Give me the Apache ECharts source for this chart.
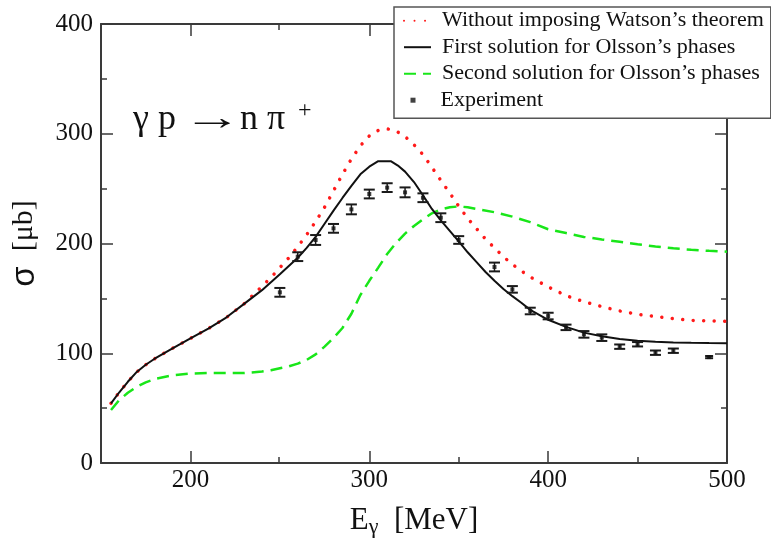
<!DOCTYPE html>
<html>
<head>
<meta charset="utf-8">
<script src="https://cdn.jsdelivr.net/npm/echarts@6/dist/echarts.min.js"></script>
<style>html,body{margin:0;padding:0;background:#fff;}#c{width:771px;height:545px;}</style>
</head>
<body>
<div id="c"></div>
<script>
// ---- data ----
var xMajorTicks = [200, 300, 400, 500];
var xMinorTicks = [250, 350, 450];
var seriesNames = ["Without imposing Watson\u2019s theorem", "First solution for Olsson\u2019s phases", "Second solution for Olsson\u2019s phases", "Experiment"];

var noWatsonX = [155.6,160,165,170,175,180,190,200,210,220,230,240,245,250,255,260,265,270,275,280,285,290,295,300,305,310,315,320,325,330,335,340,345,350,355,360,365,370,375,380,385,390,395,400,410,420,430,440,450,460,470,480,490,500];
var noWatsonY = [54.4,64,74,83,89.5,95,104.5,113.5,122.5,132.5,145,161,169,178,187,197,208,220,233,248,263,277,289,298,303,304.5,302.5,297.5,290,281,269.5,257.5,246,234,223,213.5,204,196,188,181,175,169.5,165,160.5,152.5,147,142.5,138.5,135.5,133.5,131.5,130,129.5,129];

var firstX = [155.6,160,165,170,175,180,190,200,210,220,230,240,250,260,265,270,275,280,285,290,295,300,305,312,316,320,325,330,335,340,345,350,355,360,365,370,375,380,385,390,400,410,420,430,440,450,460,470,480,490,500];
var firstY = [54.4,64,74,83,89.5,95,104.5,113.5,122.5,132.5,145,157.5,172,187,196,206,218,230,241.5,252.5,263,270,275,275,271,265.5,256,244,231.5,221,211.5,202,192,183,174,166,158.5,152,146,139.5,130.5,124,118.8,115.5,113,111.4,110.4,109.8,109.5,109.3,109.2];

var secondX = [155.6,160,165,170,175,180,190,200,210,220,230,240,245,250,255,260,265,270,275,280,285,290,295,300,305,310,315,320,325,330,335,340,345,350,355,360,370,380,390,400,410,420,430,440,450,460,470,480,490,500];
var secondY = [48.3,57,64,69.5,73.5,76.5,80,81.5,82,82,82,83.3,84.5,86.3,88,90.5,94,99,106,114,123,136,153,166,178,190.5,200.5,209,216,222,227.5,231,233,233.8,233,231.5,228.5,224.5,219.5,213,209.5,206,203.7,201.5,199.3,197.3,195.6,194.3,193.3,192.5];

var expX   = [250,260,270,280,290,300,310,320,330,340,350,370,380,390,400,410,420,430,440,450,460,470,490];
var expY   = [155.5,188,203.2,213.8,231.1,245.1,250.9,246.6,241.7,223.5,203.2,178.6,158.2,138.5,133.9,123.6,117.2,114.2,106,108.2,100.5,102.3,96.5];
var expErr = [4,4,4.5,4,4.5,4,4,4.5,4,4,3.5,4,3,3,3,2.5,3,3,2,2,2,2,1];

// ---- build ----
function zip(a, b) { return a.map(function (v, i) { return [v, b[i]]; }); }
function zip3(a, b, c) { return a.map(function (v, i) { return [v, b[i], c[i]]; }); }

var SERIF = "Liberation Serif";
var AX = "#3a3a3a";

var chart = echarts.init(document.getElementById('c'), null, {renderer: 'canvas'});

var gridRect = {left: 100, top: 24, right: 44, bottom: 82};

function errRender(params, api) {
  var x = api.value(0), y = api.value(1), e = api.value(2);
  var lo = api.coord([x, y - e]), hi = api.coord([x, y + e]);
  var hw = e > 1.5 ? 5.5 : 4;
  var st = {stroke: '#1a1a1a', lineWidth: 2};
  return {type: 'group', children: [
    {type: 'line', shape: {x1: lo[0], y1: lo[1], x2: hi[0], y2: hi[1]}, style: {stroke: '#1a1a1a', lineWidth: 1.5}},
    {type: 'line', shape: {x1: lo[0] - hw, y1: lo[1], x2: lo[0] + hw, y2: lo[1]}, style: st},
    {type: 'line', shape: {x1: hi[0] - hw, y1: hi[1], x2: hi[0] + hw, y2: hi[1]}, style: st}
  ]};
}

var option = {
  animation: false,
  backgroundColor: '#fff',
  grid: [
    Object.assign({}, gridRect),
    Object.assign({}, gridRect)
  ],
  xAxis: [
    {gridIndex: 0, type: 'value', min: 150, max: 500, position: 'bottom',
     axisLine: {show: true, onZero: false, lineStyle: {color: AX, width: 2}},
     axisTick: {show: true, inside: true, length: 12, customValues: xMajorTicks, lineStyle: {color: AX, width: 1.5}},
     axisLabel: {show: true, customValues: xMajorTicks, margin: 5, fontFamily: SERIF, fontSize: 25, color: '#111'},
     splitLine: {show: false},
     name: '{e|E}{g|\u03b3}{e|  [MeV]}', nameLocation: 'middle', nameGap: 41,
     nameTextStyle: {fontFamily: SERIF, fontSize: 31, color: '#111',
       rich: {e: {fontFamily: SERIF, fontSize: 31, color: '#111'}, g: {fontFamily: SERIF, fontSize: 22, color: '#111', padding: [12, 0, 0, 0]}}}},
    {gridIndex: 0, type: 'value', min: 150, max: 500, position: 'top',
     axisLine: {show: true, onZero: false, lineStyle: {color: AX, width: 2}},
     axisTick: {show: true, inside: true, length: 12, customValues: xMajorTicks, lineStyle: {color: AX, width: 1.5}},
     axisLabel: {show: false}, splitLine: {show: false}},
    {gridIndex: 1, type: 'value', min: 150, max: 500, position: 'bottom',
     axisLine: {show: false, onZero: false},
     axisTick: {show: true, inside: true, length: 6, customValues: xMinorTicks, lineStyle: {color: AX, width: 1.5}},
     axisLabel: {show: false}, splitLine: {show: false}},
    {gridIndex: 1, type: 'value', min: 150, max: 500, position: 'top',
     axisLine: {show: false, onZero: false},
     axisTick: {show: true, inside: true, length: 6, customValues: xMinorTicks, lineStyle: {color: AX, width: 1.5}},
     axisLabel: {show: false}, splitLine: {show: false}}
  ],
  yAxis: [
    {gridIndex: 0, type: 'value', min: 0, max: 400, interval: 100, position: 'left',
     axisLine: {show: true, onZero: false, lineStyle: {color: AX, width: 2}},
     axisTick: {show: true, inside: true, length: 12, lineStyle: {color: AX, width: 1.5}},
     minorTick: {show: true, splitNumber: 2, length: 6, lineStyle: {color: AX, width: 1.5}},
     axisLabel: {show: true, margin: 8, fontFamily: SERIF, fontSize: 25, color: '#111'},
     splitLine: {show: false}, minorSplitLine: {show: false},
     name: '{s|\u03c3}{t|  [\u03bcb]}', nameLocation: 'middle', nameGap: 60, nameRotate: 90,
     nameTextStyle: {fontFamily: SERIF, fontSize: 30, color: '#111',
       rich: {s: {fontFamily: 'Liberation Sans', fontSize: 33, color: '#111'}, t: {fontFamily: SERIF, fontSize: 30, color: '#111'}}}},
    {gridIndex: 0, type: 'value', min: 0, max: 400, interval: 100, position: 'right',
     axisLine: {show: true, onZero: false, lineStyle: {color: AX, width: 2}},
     axisTick: {show: true, inside: true, length: 12, lineStyle: {color: AX, width: 1.5}},
     minorTick: {show: true, splitNumber: 2, length: 6, lineStyle: {color: AX, width: 1.5}},
     axisLabel: {show: false}, splitLine: {show: false}},
    {gridIndex: 1, type: 'value', min: 0, max: 400, show: false}
  ],
  legend: [
    {left: 394, top: 7, orient: 'vertical', align: 'left',
     padding: [2.7, 7, 33.6, 9], itemGap: 4.5, itemWidth: 27, itemHeight: 14,
     backgroundColor: '#fff', borderColor: '#555', borderWidth: 1.5,
     itemStyle: {opacity: 0},
     data: seriesNames.slice(0, 3),
     textStyle: {fontFamily: SERIF, fontSize: 22, lineHeight: 22, color: '#111', padding: [0, 0, 0, 6]},
     z: 10},
    {left: 410.5, top: 89.2, orient: 'vertical', align: 'left', padding: 0,
     itemWidth: 5, itemHeight: 5,
     data: [seriesNames[3]],
     textStyle: {fontFamily: SERIF, fontSize: 22, lineHeight: 22, color: '#111', padding: [0, 0, 0, 20]},
     z: 11}
  ],
  graphic: [
    {type: 'text', left: 133, top: 102, z: 5,
     style: {text: '\u03b3 p', font: '36px "Liberation Serif"', fill: '#111'}},
    {type: 'text', left: 183, top: 102, z: 5, scaleX: 1.65,
     style: {text: '\u2192', font: '36px "Liberation Serif"', fill: '#111'}},
    {type: 'text', left: 240, top: 102, z: 5,
     style: {text: 'n \u03c0', font: '36px "Liberation Serif"', fill: '#111'}},
    {type: 'text', left: 298, top: 99, z: 5,
     style: {text: '+', font: '24px "Liberation Serif"', fill: '#111'}}
  ],
  series: [
    {name: seriesNames[0], type: 'line', data: zip(noWatsonX, noWatsonY), symbol: 'none', smooth: false,
     lineStyle: {color: '#ff1a1a', width: 3.5, type: [0.01, 10.5], cap: 'round'}, itemStyle: {color: '#ff1a1a'}, z: 3},
    {name: seriesNames[1], type: 'line', data: zip(firstX, firstY), symbol: 'none', smooth: false,
     lineStyle: {color: '#111', width: 2}, itemStyle: {color: '#111'}, z: 4},
    {name: seriesNames[2], type: 'line', data: zip(secondX, secondY), symbol: 'none', smooth: false,
     lineStyle: {color: '#19e619', width: 2.5, type: [12, 7]}, itemStyle: {color: '#19e619'}, z: 3},
    {name: seriesNames[3], type: 'scatter', data: zip(expX, expY), symbol: 'rect', symbolSize: 4,
     itemStyle: {color: '#111'}, z: 6},
    {name: 'errors', type: 'custom', data: zip3(expX, expY, expErr), renderItem: errRender,
     encode: {x: 0, y: 1}, z: 5}
  ]
};
chart.setOption(option);
</script>
</body>
</html>
